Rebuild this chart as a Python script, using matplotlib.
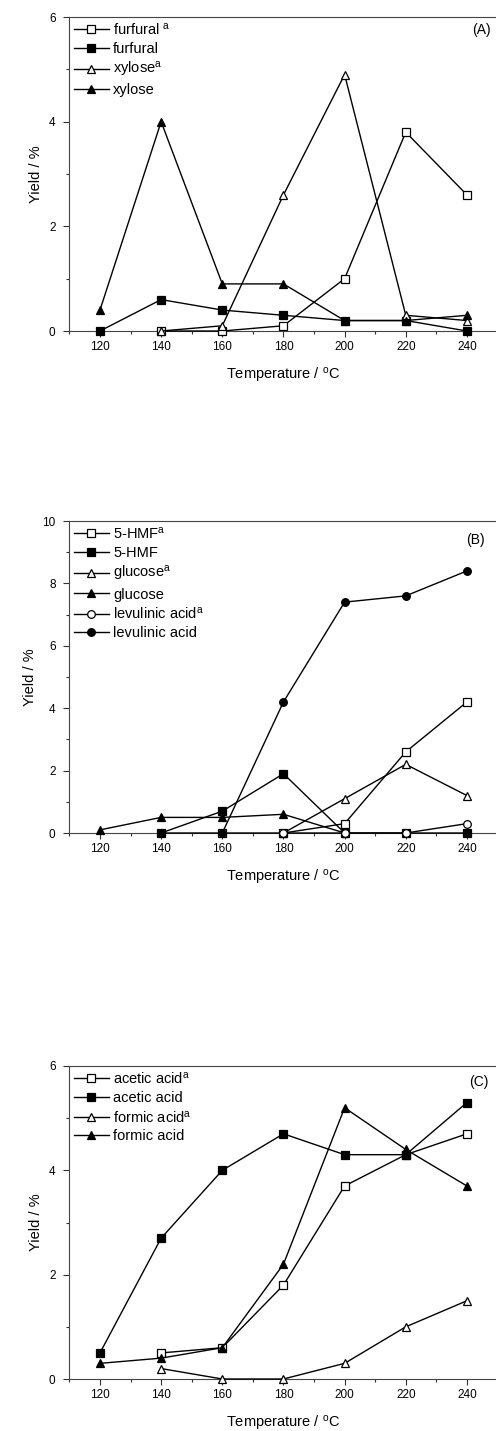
import numpy as np
import matplotlib
matplotlib.use("Agg")
import matplotlib.pyplot as plt
from matplotlib.ticker import MultipleLocator

plt.rcParams["font.family"] = ["Liberation Sans", "DejaVu Sans"]
plt.rcParams["mathtext.fontset"] = "custom"
plt.rcParams["mathtext.rm"] = "Liberation Sans"
plt.rcParams["mathtext.it"] = "Liberation Sans"

# ---- data (yield %) ----
temps = [120, 140, 160, 180, 200, 220, 240]

# panel A
furfural_a_t = [140, 160, 180, 200, 220, 240]
furfural_a = [0.0, 0.0, 0.1, 1.0, 3.8, 2.6]
furfural = [0.0, 0.6, 0.4, 0.3, 0.2, 0.2, 0.0]
xylose_a_t = [140, 160, 180, 200, 220, 240]
xylose_a = [0.0, 0.1, 2.6, 4.9, 0.3, 0.2]
xylose = [0.4, 4.0, 0.9, 0.9, 0.2, 0.2, 0.3]

# panel B
hmf_a_t = [160, 180, 200, 220, 240]
hmf_a = [0.0, 0.0, 0.3, 2.6, 4.2]
hmf_t = [140, 160, 180, 200, 220, 240]
hmf = [0.0, 0.7, 1.9, 0.0, 0.0, 0.0]
glucose_a_t = [180, 200, 220, 240]
glucose_a = [0.0, 1.1, 2.2, 1.2]
glucose_t = [120, 140, 160, 180, 200]
glucose = [0.1, 0.5, 0.5, 0.6, 0.0]
lev_a_t = [180, 200, 220, 240]
lev_a = [0.0, 0.0, 0.0, 0.3]
lev_t = [140, 160, 180, 200, 220, 240]
lev = [0.0, 0.0, 4.2, 7.4, 7.6, 8.4]

# panel C
acetic_a_t = [140, 160, 180, 200, 220, 240]
acetic_a = [0.5, 0.6, 1.8, 3.7, 4.3, 4.7]
acetic = [0.5, 2.7, 4.0, 4.7, 4.3, 4.3, 5.3]
formic_a_t = [140, 160, 180, 200, 220, 240]
formic_a = [0.2, 0.0, 0.0, 0.3, 1.0, 1.5]
formic = [0.3, 0.4, 0.6, 2.2, 5.2, 4.4, 3.7]

W, H = 496, 1431
fig = plt.figure(figsize=(W / 100, H / 100), dpi=100)


def make_axes(top_px, bottom_px):
    left_px, right_px = 69.4, 497.5
    return fig.add_axes([left_px / W, 1 - bottom_px / H,
                         (right_px - left_px) / W, (bottom_px - top_px) / H])


def series(ax, x, y, marker, filled, label):
    ax.plot(x, y, "-", color="black", lw=1.0, marker=marker, ms=5.5,
            mfc="black" if filled else "white", mec="black", mew=0.9,
            label=label, clip_on=False, zorder=3)


def style(ax, ymax, ymajor, tag, tag_xy):
    ax.set_xlim(110, 250)
    ax.set_ylim(0, ymax)
    ax.xaxis.set_major_locator(MultipleLocator(20))
    ax.xaxis.set_minor_locator(MultipleLocator(10))
    ax.yaxis.set_major_locator(MultipleLocator(ymajor))
    ax.yaxis.set_minor_locator(MultipleLocator(ymajor / 2))
    ax.tick_params(which="major", direction="out", length=4, width=0.8,
                   labelsize=8.5, colors="#333333", labelcolor="black")
    ax.tick_params(axis="y", which="major", pad=6)
    ax.tick_params(which="minor", direction="out", length=2, width=0.8,
                   colors="#333333")
    ax.spines["right"].set_visible(False)
    for s in ("left", "bottom", "top"):
        ax.spines[s].set_color("#444444")
        ax.spines[s].set_linewidth(0.8)
    ax.set_xlabel("Temperature / $^{\\mathrm{o}}$C", fontsize=10.5, labelpad=9)
    ax.set_ylabel("Yield / %", fontsize=10.5, labelpad=4)
    ax.text(tag_xy[0], tag_xy[1], tag, transform=ax.transAxes,
            ha="right", va="center", fontsize=10)
    ax.legend(loc="upper left", frameon=False, fontsize=10.5, handlelength=2.4,
              handletextpad=0.3, borderaxespad=0.1, borderpad=0.2,
              labelspacing=0.3)


# (A)
ax = make_axes(17, 331)
series(ax, furfural_a_t, furfural_a, "s", False, "furfural $^{a}$")
series(ax, temps, furfural, "s", True, "furfural")
series(ax, xylose_a_t, xylose_a, "^", False, "xylose$^{a}$")
series(ax, temps, xylose, "^", True, "xylose")
style(ax, 6, 2, "(A)", (0.985, 0.958))

# (B)
ax = make_axes(521, 833)
series(ax, hmf_a_t, hmf_a, "s", False, "5-HMF$^{a}$")
series(ax, hmf_t, hmf, "s", True, "5-HMF")
series(ax, glucose_a_t, glucose_a, "^", False, "glucose$^{a}$")
series(ax, glucose_t, glucose, "^", True, "glucose")
series(ax, lev_a_t, lev_a, "o", False, "levulinic acid$^{a}$")
series(ax, lev_t, lev, "o", True, "levulinic acid")
style(ax, 10, 2, "(B)", (0.97, 0.94))

# (C)
ax = make_axes(1066, 1379)
series(ax, acetic_a_t, acetic_a, "s", False, "acetic acid$^{a}$")
series(ax, temps, acetic, "s", True, "acetic acid")
series(ax, formic_a_t, formic_a, "^", False, "formic acid$^{a}$")
series(ax, temps, formic, "^", True, "formic acid")
style(ax, 6, 2, "(C)", (0.98, 0.95))

fig.savefig("out.png", dpi=100)
